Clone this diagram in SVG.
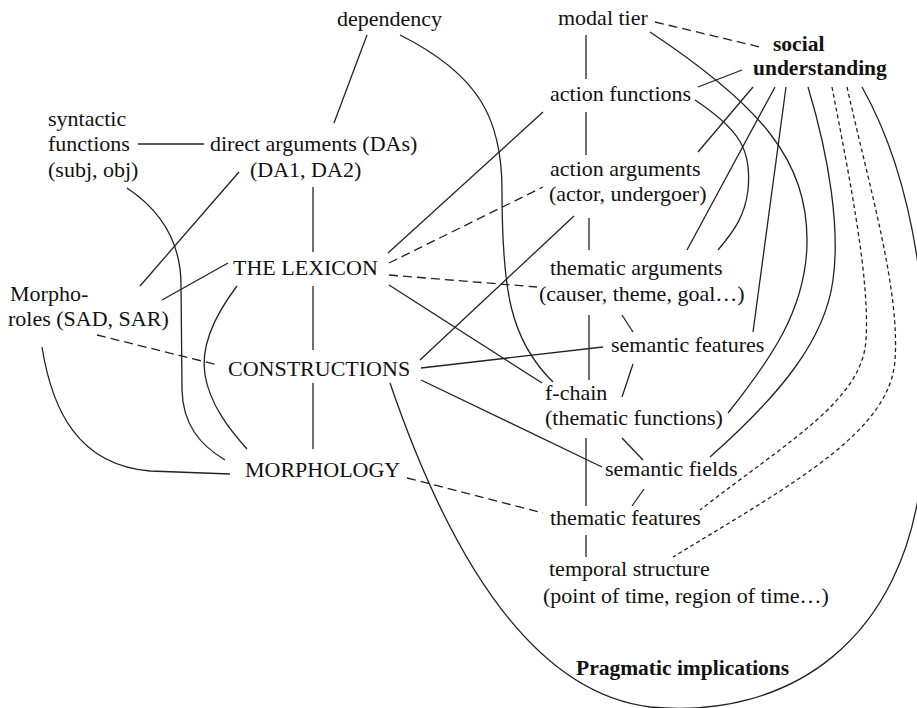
<svg xmlns="http://www.w3.org/2000/svg" width="917" height="708" viewBox="0 0 917 708">
<style>
text{font-family:"Liberation Serif","Times New Roman",serif;font-size:22px;fill:#111}
.b{font-weight:bold;font-size:21.5px}
.c line,.c path{stroke:#222;stroke-width:1.3;fill:none}
.c .d{stroke-dasharray:9,5}
.c .s{stroke-dasharray:4,3}
</style>
<rect width="917" height="708" fill="#fff"/>
<g class="c" id="connectors">
<line x1="655" y1="22" x2="760" y2="47" class="d"/>
<line x1="138" y1="144" x2="204" y2="144"/>
<line x1="367" y1="35" x2="334" y2="123"/>
<path d="M400,35 C480,75 502,120 502,190 C502,290 510,340 553,382"/>
<line x1="239" y1="172" x2="140" y2="286"/>
<line x1="313" y1="187" x2="313" y2="252"/>
<path d="M127,188 C160,210 181,240 181,285 L182,390 C183,425 200,445 225,460"/>
<line x1="228" y1="263" x2="162" y2="300"/>
<path d="M237,286 C215,315 200,345 205,375 C210,405 230,430 247,449"/>
<line x1="97" y1="335" x2="218" y2="365" class="d"/>
<path d="M42,347 C52,410 78,465 150,471 L230,474"/>
<line x1="313" y1="286" x2="313" y2="350"/>
<line x1="313" y1="383" x2="313" y2="449"/>
<line x1="388" y1="253" x2="543" y2="112"/>
<line x1="389" y1="263" x2="543" y2="187" class="d"/>
<line x1="389" y1="275" x2="537" y2="287" class="d"/>
<line x1="389" y1="285" x2="542" y2="383"/>
<line x1="420" y1="360" x2="574" y2="216"/>
<line x1="421" y1="368" x2="603" y2="347"/>
<line x1="421" y1="380" x2="602" y2="467"/>
<path d="M390,383 C430,500 510,690 650,707 C790,720 905,640 922,470 C935,340 920,190 862,87"/>
<line x1="407" y1="478" x2="543" y2="513" class="d"/>
<line x1="586" y1="35" x2="586" y2="79"/>
<line x1="586" y1="112" x2="586" y2="155"/>
<line x1="589" y1="218" x2="589" y2="250"/>
<line x1="589" y1="315" x2="589" y2="380"/>
<line x1="622" y1="315" x2="633" y2="332"/>
<line x1="633" y1="364" x2="622" y2="397"/>
<line x1="622" y1="438" x2="643" y2="460"/>
<line x1="586" y1="438" x2="586" y2="506"/>
<line x1="644" y1="489" x2="632" y2="506"/>
<line x1="586" y1="535" x2="586" y2="557"/>
<path d="M650,32 C760,105 808,160 807,243 C806,310 770,360 728,413"/>
<path d="M808,87 C830,160 840,230 833,280 C825,340 780,395 710,457"/>
<path d="M695,100 C740,130 752,150 748,190 C745,215 735,230 718,250"/>
<line x1="742" y1="70" x2="698" y2="87"/>
<line x1="753" y1="87" x2="698" y2="152"/>
<line x1="775" y1="87" x2="687" y2="250"/>
<line x1="786" y1="87" x2="753" y2="332"/>
<path class="s" d="M832,87 C850,180 870,280 866,340 C862,400 790,440 700,510"/>
<path class="s" d="M847,87 C870,190 900,290 895,360 C890,430 800,480 673,557"/>
</g>
<g id="dependency"><text x="337" y="26">dependency</text></g>
<g id="modal-tier"><text x="558" y="25">modal tier</text></g>
<g id="social-understanding"><text class="b" x="773" y="51">social</text><text class="b" x="753" y="75">understanding</text></g>
<g id="syntactic-functions"><text x="48" y="126">syntactic</text><text x="48" y="151">functions</text><text x="48" y="177">(subj, obj)</text></g>
<g id="direct-arguments"><text x="210" y="151">direct arguments (DAs)</text><text x="250" y="177">(DA1, DA2)</text></g>
<g id="action-functions"><text x="550" y="101">action functions</text></g>
<g id="action-arguments"><text x="550" y="176">action arguments</text><text x="549" y="201">(actor, undergoer)</text></g>
<g id="lexicon"><text x="233" y="275">THE LEXICON</text></g>
<g id="thematic-arguments"><text x="550" y="275">thematic arguments</text><text x="539" y="301">(causer, theme, goal…)</text></g>
<g id="morpho-roles"><text x="10" y="301">Morpho-</text><text x="8" y="326">roles (SAD, SAR)</text></g>
<g id="semantic-features"><text x="611" y="352">semantic features</text></g>
<g id="constructions"><text x="228" y="376">CONSTRUCTIONS</text></g>
<g id="f-chain"><text x="545" y="400">f-chain</text><text x="545" y="425">(thematic functions)</text></g>
<g id="morphology"><text x="245" y="477">MORPHOLOGY</text></g>
<g id="semantic-fields"><text x="605" y="476">semantic fields</text></g>
<g id="thematic-features"><text x="550" y="525">thematic features</text></g>
<g id="temporal-structure"><text x="549" y="576">temporal structure</text><text x="543" y="603">(point of time, region of time…)</text></g>
<g id="pragmatic-implications"><text class="b" x="576" y="675">Pragmatic implications</text></g>
</svg>
